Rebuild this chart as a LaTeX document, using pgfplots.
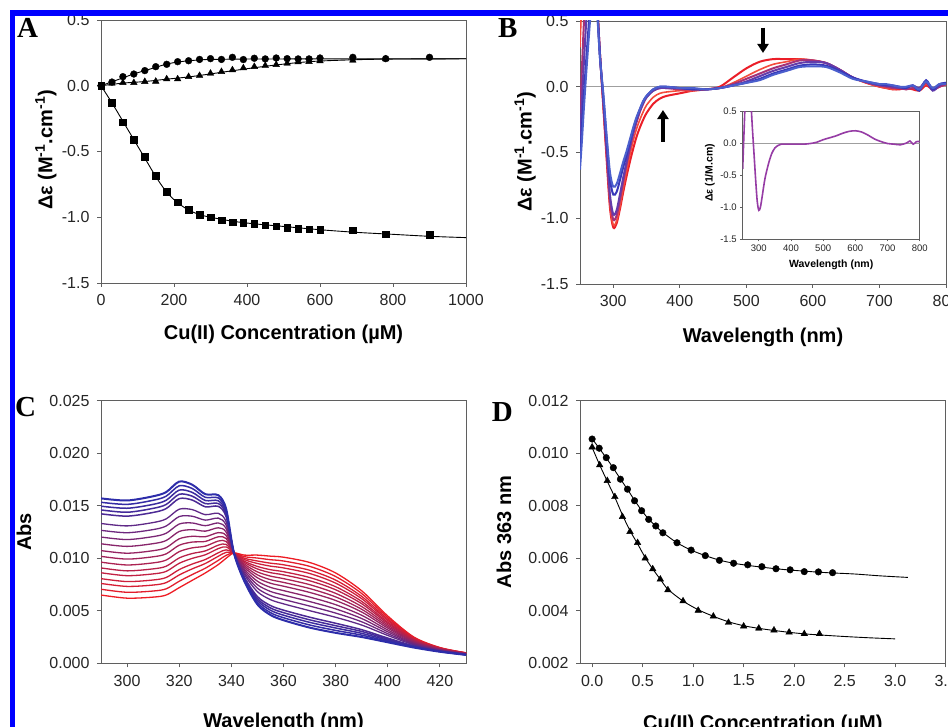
\documentclass[border=0pt]{standalone}
\usepackage{fontspec}
\setmainfont{Liberation Sans}
\newfontfamily\timesfont{Liberation Serif}
\usepackage{pgfplots}
\usepackage{pgfplotstable}
\pgfplotsset{compat=1.18}
\usetikzlibrary{arrows.meta}

\definecolor{framegray}{RGB}{95,95,95}
\definecolor{cb}{RGB}{45,45,170}
\definecolor{cr}{RGB}{238,28,36}
\definecolor{Br1}{RGB}{235,30,40}
\definecolor{Br2}{RGB}{245,75,60}
\definecolor{Bp1}{RGB}{165,50,120}
\definecolor{Bp2}{RGB}{100,60,170}
\definecolor{Bb1}{RGB}{55,55,185}
\definecolor{Bb2}{RGB}{75,95,205}
\definecolor{inset}{RGB}{150,60,165}

\pgfplotsset{
  panel/.style={
    scale only axis,
    axis line style={framegray, line width=0.9pt},
    tick style={framegray, line width=0.9pt},
    tick align=outside,
    tick pos=left,
    /pgf/number format/assume math mode=true,
    /pgf/number format/1000 sep={},
    scaled ticks=false,
    clip=true,
  },
  bigfonts/.style={
    major tick length=4pt,
    tick label style={font=\fontsize{16}{16}\selectfont, text=black!85},
    label style={font=\bfseries\fontsize{20}{22}\selectfont, inner sep=0pt},
    xticklabel style={yshift=-4pt},
    yticklabel style={xshift=-4pt},
  },
}

% Panel B CD spectra
\pgfplotstableread{
wl r1 r2 p1 p2 b1 b2
250 0.45 0.30 -0.20 -0.40 -0.55 -0.63
253 0.80 0.70 0.15 -0.10 -0.30 -0.40
256 1.10 1.00 0.50 0.20 -0.05 -0.15
260 1.30 1.20 0.85 0.55 0.25 0.15
265 1.40 1.35 1.10 0.90 0.60 0.50
270 1.20 1.20 1.10 1.00 0.90 0.85
275 0.70 0.70 0.70 0.70 0.65 0.62
280 0.25 0.25 0.25 0.25 0.22 0.22
285 -0.15 -0.15 -0.12 -0.10 -0.07 -0.05
290 -0.55 -0.53 -0.50 -0.47 -0.40 -0.37
295 -0.92 -0.90 -0.86 -0.82 -0.70 -0.65
300 -1.07 -1.05 -1.01 -0.97 -0.82 -0.76
305 -1.04 -1.02 -0.98 -0.94 -0.80 -0.74
310 -0.93 -0.91 -0.86 -0.82 -0.71 -0.66
315 -0.80 -0.77 -0.72 -0.69 -0.61 -0.57
320 -0.68 -0.64 -0.59 -0.57 -0.52 -0.49
325 -0.57 -0.52 -0.47 -0.45 -0.42 -0.40
330 -0.47 -0.41 -0.36 -0.34 -0.32 -0.31
335 -0.38 -0.32 -0.27 -0.25 -0.24 -0.23
340 -0.31 -0.25 -0.19 -0.18 -0.17 -0.17
345 -0.25 -0.19 -0.13 -0.12 -0.11 -0.11
350 -0.20 -0.14 -0.08 -0.08 -0.07 -0.07
360 -0.13 -0.08 -0.03 -0.03 -0.02 -0.02
370 -0.09 -0.05 -0.01 -0.01 0.00 0.00
380 -0.07 -0.04 -0.01 -0.01 0.00 0.00
400 -0.05 -0.03 -0.02 -0.01 -0.01 -0.01
420 -0.03 -0.03 -0.02 -0.02 -0.02 -0.01
440 -0.02 -0.02 -0.02 -0.02 -0.02 -0.02
460 0.00 -0.01 -0.01 -0.01 -0.01 -0.01
480 0.07 0.03 0.02 0.01 0.01 0.01
500 0.14 0.08 0.06 0.04 0.03 0.03
520 0.19 0.13 0.10 0.08 0.06 0.05
540 0.21 0.17 0.14 0.12 0.10 0.09
560 0.21 0.19 0.17 0.15 0.13 0.12
580 0.21 0.21 0.20 0.18 0.16 0.15
600 0.20 0.20 0.20 0.19 0.17 0.155
620 0.18 0.18 0.18 0.18 0.16 0.15
640 0.13 0.13 0.13 0.13 0.12 0.11
660 0.07 0.07 0.07 0.07 0.07 0.06
680 0.03 0.03 0.035 0.035 0.04 0.04
700 0.00 0.00 0.01 0.01 0.02 0.02
710 -0.01 -0.01 0.00 0.01 0.01 0.02
720 -0.02 -0.02 -0.01 0.00 0.01 0.01
730 -0.02 -0.01 -0.01 -0.01 0.00 0.00
740 -0.01 -0.02 -0.02 -0.01 -0.01 0.00
750 -0.02 -0.01 -0.01 0.01 0.01 0.01
760 -0.03 -0.02 -0.02 -0.01 -0.03 -0.02
770 0.01 0.02 0.03 0.04 0.05 0.04
780 -0.02 -0.01 -0.02 -0.03 -0.02 -0.01
790 0.00 0.01 0.00 0.01 0.02 0.02
800 0.02 0.01 0.02 0.03 0.03 0.02
}\tabB

% Inset spectrum
\pgfplotstableread{
wl v
250 -0.40
255 0.30
260 0.90
270 1.10
275 0.70
280 0.25
285 -0.15
290 -0.55
295 -0.90
300 -1.05
305 -1.00
310 -0.85
315 -0.68
320 -0.53
330 -0.32
340 -0.16
350 -0.07
360 -0.03
370 -0.01
400 -0.01
440 -0.01
460 0.00
480 0.02
500 0.06
520 0.09
540 0.12
560 0.16
580 0.19
600 0.20
620 0.18
640 0.13
660 0.07
680 0.03
700 0.00
720 -0.01
740 -0.02
760 0.01
770 0.04
780 -0.01
790 0.03
800 0.03
}\tabInset

% Panel C UV-vis spectra (c1 blue ... c18 red)
\pgfplotstableread{
wl c1 c2 c3 c4 c5 c6 c7 c8 c9 c10 c11 c12 c13 c14 c15 c16 c17 c18
290 0.0157 0.01533 0.01496 0.0146 0.01423 0.01331 0.01266 0.01202 0.01138 0.01073 0.01018 0.00963 0.00908 0.00862 0.00806 0.0076 0.00705 0.0065
300 0.0155 0.01513 0.01476 0.01438 0.01401 0.01308 0.01243 0.01178 0.01113 0.01048 0.00992 0.00936 0.0088 0.00834 0.00778 0.00732 0.00676 0.0062
310 0.0159 0.01552 0.01513 0.01475 0.01436 0.0134 0.01273 0.01206 0.01139 0.01072 0.01014 0.00956 0.00899 0.00851 0.00793 0.00745 0.00688 0.0063
315 0.0163 0.01591 0.01552 0.01512 0.01473 0.01375 0.01307 0.01238 0.01169 0.01101 0.01042 0.00983 0.00924 0.00875 0.00817 0.00768 0.00709 0.0065
320 0.0173 0.0169 0.01649 0.01609 0.01568 0.01467 0.01397 0.01326 0.01255 0.01185 0.01124 0.01063 0.01003 0.00952 0.00892 0.00841 0.00781 0.0072
325 0.0170 0.01664 0.01627 0.01591 0.01554 0.01463 0.014 0.01336 0.01272 0.01209 0.01154 0.01099 0.01045 0.00999 0.00945 0.00899 0.00845 0.0079
330 0.0161 0.0158 0.0155 0.0152 0.0149 0.01415 0.01363 0.0131 0.01258 0.01205 0.0116 0.01115 0.0107 0.01033 0.00988 0.0095 0.00905 0.0086
335 0.0160 0.01574 0.01547 0.01521 0.01494 0.01428 0.01382 0.01336 0.0129 0.01244 0.01204 0.01164 0.01125 0.01092 0.01052 0.01019 0.0098 0.0094
338 0.0147 0.01451 0.01432 0.01414 0.01395 0.01348 0.01315 0.01282 0.01249 0.01216 0.01188 0.0116 0.01132 0.01108 0.0108 0.01056 0.01028 0.0100
341 0.0105 0.0105 0.0105 0.0105 0.0105 0.0105 0.0105 0.0105 0.0105 0.0105 0.0105 0.0105 0.0105 0.0105 0.0105 0.0105 0.0105 0.0105
345 0.0078 0.0079 0.0080 0.0081 0.0082 0.00845 0.00862 0.0088 0.00897 0.00915 0.0093 0.00945 0.0096 0.00972 0.00987 0.0100 0.01015 0.0103
350 0.0056 0.00579 0.00598 0.00616 0.00635 0.00682 0.00715 0.00748 0.00781 0.00814 0.00842 0.0087 0.00898 0.00922 0.0095 0.00974 0.01002 0.0103
355 0.0046 0.00482 0.00505 0.00527 0.0055 0.00606 0.00645 0.00684 0.00723 0.00762 0.00796 0.0083 0.00863 0.00891 0.00925 0.00953 0.00986 0.0102
360 0.0041 0.00434 0.00458 0.00482 0.00506 0.00566 0.00608 0.0065 0.00692 0.00734 0.0077 0.00806 0.00842 0.00872 0.00908 0.00938 0.00974 0.0101
370 0.0034 0.00365 0.0039 0.00414 0.00439 0.00501 0.00545 0.00588 0.00631 0.00675 0.00712 0.00749 0.00786 0.00817 0.00855 0.00886 0.00923 0.0096
380 0.0029 0.00313 0.00336 0.00358 0.00381 0.00438 0.00478 0.00518 0.00558 0.00598 0.00632 0.00666 0.0070 0.00729 0.00763 0.00792 0.00826 0.0086
390 0.0025 0.00268 0.00285 0.00303 0.0032 0.00364 0.00395 0.00426 0.00457 0.00488 0.00514 0.0054 0.00567 0.00589 0.00615 0.00637 0.00664 0.0069
400 0.0020 0.0021 0.0022 0.0023 0.0024 0.00265 0.00282 0.0030 0.00317 0.00335 0.0035 0.00365 0.0038 0.00392 0.00407 0.0042 0.00435 0.0045
410 0.0015 0.00154 0.00158 0.00162 0.00166 0.00176 0.00183 0.0019 0.00197 0.00204 0.0021 0.00216 0.00222 0.00227 0.00233 0.00238 0.00244 0.0025
420 0.0011 0.00112 0.00113 0.00115 0.00116 0.0012 0.00123 0.00126 0.00129 0.00132 0.00134 0.00136 0.00139 0.00141 0.00143 0.00145 0.00148 0.0015
430 0.0008 0.00081 0.00082 0.00082 0.00083 0.00085 0.00087 0.00088 0.00089 0.00091 0.00092 0.00093 0.00094 0.00095 0.00097 0.00098 0.00099 0.0010
}\tabC

\begin{document}
\begin{tikzpicture}[x=1pt,y=1pt]
\fill[white] (0pt,0pt) rectangle (948pt,727pt);
\useasboundingbox (0pt,0pt) rectangle (948pt,727pt);
\clip (0pt,0pt) rectangle (948pt,727pt);

%================ Panel A
\begin{axis}[panel, bigfonts, at={(101pt,444pt)}, anchor=south west,
  width=365pt, height=263pt,
  xmin=0, xmax=1000, ymin=-1.5, ymax=0.5,
  xtick={0,200,400,600,800,1000},
  ytick={-1.5,-1,-0.5,0,0.5},
  yticklabel style={/pgf/number format/.cd,fixed,fixed zerofill,precision=1},
  xlabel={Cu(II) Concentration (µM)},
  ylabel={Δε (M\textsuperscript{-1}.cm\textsuperscript{-1})},
  xlabel style={at={(axis description cs:0.5,-0.16)}, anchor=north},
  ylabel style={at={(axis description cs:-0.151,0.506)}, anchor=center},
]
\addplot[black, line width=0.9pt, smooth] coordinates {(0,0) (30,-0.13) (60,-0.27) (90,-0.41) (120,-0.55) (150,-0.69) (180,-0.81) (210,-0.89) (240,-0.945) (270,-0.98) (300,-1.0) (360,-1.03) (420,-1.05) (500,-1.07) (600,-1.095) (700,-1.115) (800,-1.13) (900,-1.145) (1000,-1.155)};
\addplot[black, line width=0.9pt, smooth] coordinates {(0,0) (30,0.03) (60,0.06) (90,0.09) (120,0.115) (150,0.14) (180,0.165) (210,0.18) (240,0.19) (270,0.196) (300,0.2) (400,0.203) (600,0.204) (1000,0.205)};
\addplot[black, line width=0.9pt, smooth] coordinates {(0,0) (60,0.02) (120,0.032) (180,0.05) (240,0.067) (300,0.09) (360,0.114) (420,0.137) (480,0.158) (540,0.176) (600,0.188) (700,0.198) (800,0.203) (1000,0.205)};
\addplot[only marks, mark=square*, mark size=3.3pt, black] coordinates {(0,0) (30,-0.128) (60,-0.277) (90,-0.41) (120,-0.538) (150,-0.685) (180,-0.804) (210,-0.887) (240,-0.943) (270,-0.981) (300,-1.001) (330,-1.022) (360,-1.037) (390,-1.042) (420,-1.05) (450,-1.06) (480,-1.068) (510,-1.078) (540,-1.087) (570,-1.09) (600,-1.097) (690,-1.10) (780,-1.128) (900,-1.133)};
\addplot[only marks, mark=triangle*, mark size=3.8pt, black] coordinates {(30,0.018) (60,0.023) (90,0.023) (120,0.031) (150,0.033) (180,0.051) (210,0.051) (240,0.069) (270,0.077) (300,0.094) (330,0.107) (360,0.12) (390,0.135) (420,0.145) (450,0.153) (480,0.16) (510,0.17) (540,0.18) (570,0.183) (600,0.188) (690,0.193) (780,0.203)};
\addplot[only marks, mark=*, mark size=3.4pt, black] coordinates {(0,0) (30,0.028) (60,0.069) (90,0.089) (120,0.115) (150,0.145) (180,0.163) (210,0.183) (240,0.19) (270,0.2) (300,0.206) (330,0.2) (360,0.216) (390,0.199) (420,0.209) (450,0.204) (480,0.211) (510,0.206) (540,0.204) (570,0.204) (600,0.211) (690,0.216) (780,0.206) (900,0.216)};
\end{axis}

%================ Panel B
\begin{axis}[panel, bigfonts, at={(580pt,443pt)}, anchor=south west,
  width=366pt, height=263pt,
  xmin=250, xmax=800, ymin=-1.5, ymax=0.5,
  xtick={300,400,500,600,700,800},
  ytick={-1.5,-1,-0.5,0,0.5},
  yticklabel style={/pgf/number format/.cd,fixed,fixed zerofill,precision=1},
  xlabel={Wavelength (nm)},
  ylabel={Δε (M\textsuperscript{-1}.cm\textsuperscript{-1})},
  xlabel style={at={(axis description cs:0.5,-0.167)}, anchor=north},
  ylabel style={at={(axis description cs:-0.150,0.503)}, anchor=center},
]
\addplot[gray!75, line width=1.3pt] coordinates {(250,0) (800,0)};
\addplot[Br1, line width=2pt, smooth] table[x=wl,y=r1]{\tabB};
\addplot[Br2, line width=1.6pt, smooth] table[x=wl,y=r2]{\tabB};
\addplot[Bp1, line width=2pt, smooth] table[x=wl,y=p1]{\tabB};
\addplot[Bp2, line width=2pt, smooth] table[x=wl,y=p2]{\tabB};
\addplot[Bb1, line width=2pt, smooth] table[x=wl,y=b1]{\tabB};
\addplot[Bb2, line width=2pt, smooth] table[x=wl,y=b2]{\tabB};
\draw[line width=3.2pt, -{Triangle[length=9pt,width=11pt]}] (axis cs:525,0.45) -- (axis cs:525,0.257);
\draw[line width=3.2pt, -{Triangle[length=9pt,width=11pt]}] (axis cs:374.7,-0.42) -- (axis cs:374.7,-0.177);
\end{axis}

%================ Inset
\begin{axis}[panel, at={(742.7pt,488pt)}, anchor=south west,
  width=177pt, height=127.3pt,
  axis background/.style={fill=white},
  major tick length=2.5pt,
  tick label style={font=\fontsize{9.5}{9.5}\selectfont, text=black!85},
  label style={font=\bfseries\fontsize{10.5}{11}\selectfont, inner sep=0pt},
  xmin=250, xmax=800, ymin=-1.5, ymax=0.5,
  xtick={300,400,500,600,700,800},
  ytick={-1.5,-1,-0.5,0,0.5},
  yticklabel style={/pgf/number format/.cd,fixed,fixed zerofill,precision=1},
  xlabel={Wavelength (nm)},
  ylabel={Δε (1/M.cm)},
  xlabel style={at={(axis description cs:0.5,-0.165)}, anchor=north},
  ylabel style={at={(axis description cs:-0.185,0.52)}, anchor=center},
]
\addplot[gray!75, line width=1pt] coordinates {(250,0) (800,0)};
\addplot[inset, line width=1.6pt, smooth] table[x=wl,y=v]{\tabInset};
\end{axis}

%================ Panel C
\begin{axis}[panel, bigfonts, at={(101pt,63.7pt)}, anchor=south west,
  width=365pt, height=262.6pt,
  xmin=290, xmax=430, ymin=0, ymax=0.025,
  xtick={300,320,340,360,380,400,420},
  ytick={0,0.005,0.01,0.015,0.02,0.025},
  yticklabel style={/pgf/number format/.cd,fixed,fixed zerofill,precision=3},
  xlabel={Wavelength (nm)},
  ylabel={Abs},
  xlabel style={at={(axis description cs:0.5,-0.189)}, anchor=north},
  ylabel style={at={(axis description cs:-0.211,0.5)}, anchor=center},
]
\addplot[cb!0!cr, line width=1.3pt, smooth] table[x=wl,y=c18]{\tabC};
\addplot[cb!6!cr, line width=1.3pt, smooth] table[x=wl,y=c17]{\tabC};
\addplot[cb!12!cr, line width=1.3pt, smooth] table[x=wl,y=c16]{\tabC};
\addplot[cb!17!cr, line width=1.3pt, smooth] table[x=wl,y=c15]{\tabC};
\addplot[cb!23!cr, line width=1.3pt, smooth] table[x=wl,y=c14]{\tabC};
\addplot[cb!28!cr, line width=1.3pt, smooth] table[x=wl,y=c13]{\tabC};
\addplot[cb!34!cr, line width=1.3pt, smooth] table[x=wl,y=c12]{\tabC};
\addplot[cb!40!cr, line width=1.3pt, smooth] table[x=wl,y=c11]{\tabC};
\addplot[cb!46!cr, line width=1.3pt, smooth] table[x=wl,y=c10]{\tabC};
\addplot[cb!53!cr, line width=1.3pt, smooth] table[x=wl,y=c9]{\tabC};
\addplot[cb!60!cr, line width=1.3pt, smooth] table[x=wl,y=c8]{\tabC};
\addplot[cb!67!cr, line width=1.3pt, smooth] table[x=wl,y=c7]{\tabC};
\addplot[cb!74!cr, line width=1.3pt, smooth] table[x=wl,y=c6]{\tabC};
\addplot[cb!84!cr, line width=1.5pt, smooth] table[x=wl,y=c5]{\tabC};
\addplot[cb!88!cr, line width=1.5pt, smooth] table[x=wl,y=c4]{\tabC};
\addplot[cb!92!cr, line width=1.5pt, smooth] table[x=wl,y=c3]{\tabC};
\addplot[cb!96!cr, line width=1.5pt, smooth] table[x=wl,y=c2]{\tabC};
\addplot[cb!100!cr, line width=2pt, smooth] table[x=wl,y=c1]{\tabC};
\end{axis}

%================ Panel D
\begin{axis}[panel, bigfonts, at={(580pt,63.7pt)}, anchor=south west,
  width=365.7pt, height=262.6pt,
  xmin=-0.12, xmax=3.5, ymin=0.002, ymax=0.012,
  xtick={0,0.5,1,1.5,2,2.5,3,3.5},
  ytick={0.002,0.004,0.006,0.008,0.010,0.012},
  xticklabel style={/pgf/number format/.cd,fixed,fixed zerofill,precision=1},
  yticklabel style={/pgf/number format/.cd,fixed,fixed zerofill,precision=3},
  xlabel={Cu(II) Concentration (µM)},
  ylabel={Abs 363 nm},
  xlabel style={at={(axis description cs:0.5,-0.197)}, anchor=north},
  ylabel style={at={(axis description cs:-0.208,0.5)}, anchor=center},
]
\addplot[black, line width=0.9pt, smooth] coordinates {(0,0.01055) (0.07,0.01019) (0.14,0.00982) (0.21,0.00943) (0.28,0.00902) (0.35,0.00862) (0.42,0.00821) (0.49,0.00782) (0.56,0.00749) (0.63,0.00722) (0.7,0.00698) (0.84,0.00659) (0.98,0.00631) (1.12,0.0061) (1.26,0.00593) (1.4,0.00581) (1.54,0.00573) (1.68,0.00566) (1.82,0.0056) (1.96,0.00555) (2.1,0.00551) (2.24,0.00547) (2.38,0.00544) (2.6,0.0054) (2.85,0.00533) (3.126,0.00527)};
\addplot[black, line width=0.9pt, smooth] coordinates {(0,0.01022) (0.075,0.00955) (0.15,0.00893) (0.225,0.00832) (0.3,0.00765) (0.375,0.00705) (0.45,0.00655) (0.525,0.00603) (0.6,0.00559) (0.675,0.0052) (0.75,0.00482) (0.9,0.00437) (1.05,0.00404) (1.2,0.00379) (1.35,0.00358) (1.5,0.00343) (1.65,0.00333) (1.8,0.00325) (1.95,0.00318) (2.1,0.00312) (2.25,0.00308) (2.5,0.00302) (2.75,0.00297) (3.0,0.00293)};
\addplot[only marks, mark=*, mark size=3.3pt, black] coordinates {(0,0.01054) (0.07,0.01019) (0.14,0.00983) (0.21,0.00945) (0.28,0.00901) (0.35,0.00863) (0.42,0.00819) (0.49,0.00781) (0.56,0.00748) (0.63,0.00723) (0.70,0.00697) (0.84,0.00659) (0.98,0.00631) (1.12,0.0061) (1.26,0.00592) (1.40,0.00581) (1.54,0.00575) (1.68,0.00568) (1.82,0.0056) (1.96,0.00556) (2.10,0.00549) (2.24,0.00548) (2.38,0.00545)};
\addplot[only marks, mark=triangle*, mark size=3.8pt, black] coordinates {(0,0.01023) (0.075,0.00955) (0.15,0.00895) (0.225,0.00834) (0.30,0.00758) (0.375,0.00701) (0.45,0.00659) (0.525,0.006) (0.60,0.00559) (0.675,0.0052) (0.75,0.00479) (0.90,0.00437) (1.05,0.00401) (1.20,0.00379) (1.35,0.00355) (1.50,0.00341) (1.65,0.00333) (1.80,0.00326) (1.95,0.00318) (2.10,0.00312) (2.25,0.00312)};
\end{axis}

%================ panel letters
\node[anchor=base west, inner sep=0pt, font=\timesfont\bfseries\fontsize{29}{29}\selectfont] at (17pt,689pt) {A};
\node[anchor=base west, inner sep=0pt, font=\timesfont\bfseries\fontsize{29}{29}\selectfont] at (498pt,689pt) {B};
\node[anchor=base west, inner sep=0pt, font=\timesfont\bfseries\fontsize{29}{29}\selectfont] at (15pt,310.3pt) {C};
\node[anchor=base west, inner sep=0pt, font=\timesfont\bfseries\fontsize{29}{29}\selectfont] at (491.7pt,305.3pt) {D};

%================ blue frame
\fill[blue] (10pt,711pt) rectangle (948pt,717pt);
\fill[blue] (10pt,0pt) rectangle (15pt,717pt);
\end{tikzpicture}
\end{document}
